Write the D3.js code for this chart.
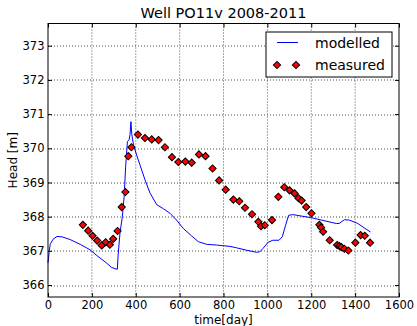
<!DOCTYPE html>
<html>
<head>
<meta charset="utf-8">
<script src="https://cdn.jsdelivr.net/npm/d3@7"></script>
<style>
  body { margin: 0; background: #fff; }
  svg text { font-family: "DejaVu Sans", sans-serif; fill: #000; }
</style>
</head>
<body>
<div id="chart"></div>
<script>
// Well PO11v head: modelled vs measured

const xTicks = [0, 200, 400, 600, 800, 1000, 1200, 1400, 1600];
const yTicks = [366, 367, 368, 369, 370, 371, 372, 373];

const modelDays = [0, 5, 10, 23, 41, 64, 101, 147, 192, 223, 260, 291, 316, 320, 328, 339, 347, 354, 362, 370, 374, 378, 382, 390, 404, 420, 442, 465, 496, 526, 556, 586, 616, 654, 685, 723, 768, 829, 859, 904, 950, 965, 980, 1003, 1025, 1053, 1068, 1083, 1097, 1116, 1162, 1200, 1253, 1314, 1327, 1351, 1374, 1412, 1442, 1470];
const modelHead = [366.65, 366.95, 367.19, 367.34, 367.42, 367.41, 367.33, 367.19, 367.03, 366.86, 366.68, 366.51, 366.46, 366.9, 367.52, 368.0, 368.58, 369.47, 370.2, 370.25, 370.4, 370.78, 370.4, 370.1, 369.8, 369.5, 369.08, 368.69, 368.35, 368.23, 368.1, 367.9, 367.66, 367.44, 367.27, 367.19, 367.17, 367.13, 367.09, 367.02, 366.96, 366.97, 367.07, 367.25, 367.31, 367.31, 367.41, 367.75, 368.04, 368.06, 368.01, 367.97, 367.89, 367.8, 367.8, 367.91, 367.9, 367.8, 367.67, 367.55];

const measDays = [159, 183, 203, 224, 245, 263, 282, 297, 317, 336, 353, 366, 380, 410, 442, 473, 504, 533, 565, 594, 626, 655, 688, 718, 750, 780, 810, 845, 872, 898, 930, 959, 971, 988, 1021, 1050, 1077, 1101, 1124, 1142, 1156, 1177, 1201, 1237, 1245, 1254, 1284, 1318, 1328, 1337, 1351, 1369, 1401, 1425, 1444, 1468];
const measHead = [367.76, 367.59, 367.44, 367.30, 367.16, 367.25, 367.18, 367.35, 367.58, 368.28, 368.72, 369.77, 370.03, 370.40, 370.30, 370.26, 370.24, 370.03, 369.74, 369.60, 369.61, 369.58, 369.82, 369.77, 369.41, 369.06, 368.79, 368.50, 368.45, 368.26, 368.07, 367.85, 367.72, 367.75, 367.90, 368.58, 368.86, 368.77, 368.68, 368.54, 368.47, 368.28, 368.10, 367.76, 367.68, 367.56, 367.31, 367.17, 367.14, 367.11, 367.06, 367.01, 367.24, 367.46, 367.44, 367.24];

const width = 417, height = 326;
const margin = { top: 23.5, right: 18, bottom: 29, left: 48 };
const plotW = width - margin.left - margin.right;
const plotH = height - margin.top - margin.bottom;

const svg = d3.select('#chart').append('svg')
  .attr('width', width)
  .attr('height', height);

const x = d3.scaleLinear().domain([0, 1600]).range([0, plotW]);
const y = d3.scaleLinear().domain([365.65, 373.65]).range([plotH, 0]);

const g = svg.append('g').attr('transform', `translate(${margin.left},${margin.top})`);

// dotted grid
g.append('g').selectAll('line.vg')
  .data(xTicks.slice(1, -1))
  .enter().append('line')
  .attr('x1', d => x(d)).attr('x2', d => x(d))
  .attr('y1', 0).attr('y2', plotH)
  .attr('stroke', '#000').attr('stroke-width', 0.7)
  .attr('stroke-dasharray', '1,2');

g.append('g').selectAll('line.hg')
  .data(yTicks)
  .enter().append('line')
  .attr('y1', d => Math.round(y(d)) + 0.5).attr('y2', d => Math.round(y(d)) + 0.5)
  .attr('x1', 0).attr('x2', plotW)
  .attr('stroke', '#000').attr('stroke-width', 0.7)
  .attr('stroke-dasharray', '1,2');

// axes (ticks pointing inwards, matplotlib classic)
const xAxisB = d3.axisBottom(x).tickValues(xTicks).tickSize(-4).tickPadding(4.3).tickFormat(d3.format('d'));
const xAxisT = d3.axisTop(x).tickValues(xTicks).tickSize(-4).tickFormat('');
const yAxisL = d3.axisLeft(y).tickValues(yTicks).tickSize(-4).tickPadding(3.5).tickFormat(d3.format('d'));
const yAxisR = d3.axisRight(y).tickValues(yTicks).tickSize(-4).tickFormat('');

const axes = [
  g.append('g').attr('transform', `translate(0,${plotH})`).call(xAxisB),
  g.append('g').call(xAxisT),
  g.append('g').call(yAxisL),
  g.append('g').attr('transform', `translate(${plotW},0)`).call(yAxisR)
];
axes.forEach(a => {
  a.select('.domain').remove();
  a.selectAll('line').attr('stroke', '#000');
  a.selectAll('text').style('font-size', '11.5px').style('font-family', '"DejaVu Sans", sans-serif');
});

// modelled line
const line = d3.line()
  .x((d, i) => x(modelDays[i]))
  .y(d => y(d));

g.append('path')
  .datum(modelHead)
  .attr('d', line)
  .attr('fill', 'none')
  .attr('stroke', '#0000ff')
  .attr('stroke-width', 1);

// measured points
const diamond = d3.symbol().type(d3.symbolSquare).size(26);
g.append('g').selectAll('path')
  .data(measHead)
  .enter().append('path')
  .attr('d', diamond)
  .attr('transform', (d, i) => `translate(${x(measDays[i])},${y(d)}) rotate(45)`)
  .attr('fill', '#ff0000')
  .attr('stroke', '#000')
  .attr('stroke-width', 1);

// frame
g.append('rect')
  .attr('width', plotW).attr('height', plotH)
  .attr('fill', 'none').attr('stroke', '#000').attr('stroke-width', 1);

// legend
const lg = svg.append('g').attr('transform', 'translate(266,32)');
lg.append('rect')
  .attr('width', 126).attr('height', 45)
  .attr('fill', '#fff').attr('stroke', '#000').attr('stroke-width', 1);
lg.append('line')
  .attr('x1', 11).attr('x2', 32).attr('y1', 10.5).attr('y2', 10.5)
  .attr('stroke', '#0000ff').attr('stroke-width', 1);
lg.append('text').attr('x', 49).attr('y', 15.5).style('font-size', '14px').text('modelled');
[11, 30].forEach(px => {
  lg.append('path')
    .attr('d', diamond)
    .attr('transform', `translate(${px},33) rotate(45)`)
    .attr('fill', '#ff0000').attr('stroke', '#000').attr('stroke-width', 1);
});
lg.append('text').attr('x', 49).attr('y', 38).style('font-size', '14px').text('measured');

// title and axis labels
svg.append('text')
  .attr('x', margin.left + plotW / 2).attr('y', 18)
  .attr('text-anchor', 'middle').style('font-size', '14.5px')
  .text('Well PO11v 2008-2011');

svg.append('text')
  .attr('x', margin.left + plotW / 2).attr('y', 323.5)
  .attr('text-anchor', 'middle').style('font-size', '12px')
  .text('time[day]');

svg.append('text')
  .attr('transform', `translate(17,${margin.top + plotH / 2}) rotate(-90)`)
  .attr('text-anchor', 'middle').style('font-size', '12px')
  .text('Head [m]');
</script>
</body>
</html>
